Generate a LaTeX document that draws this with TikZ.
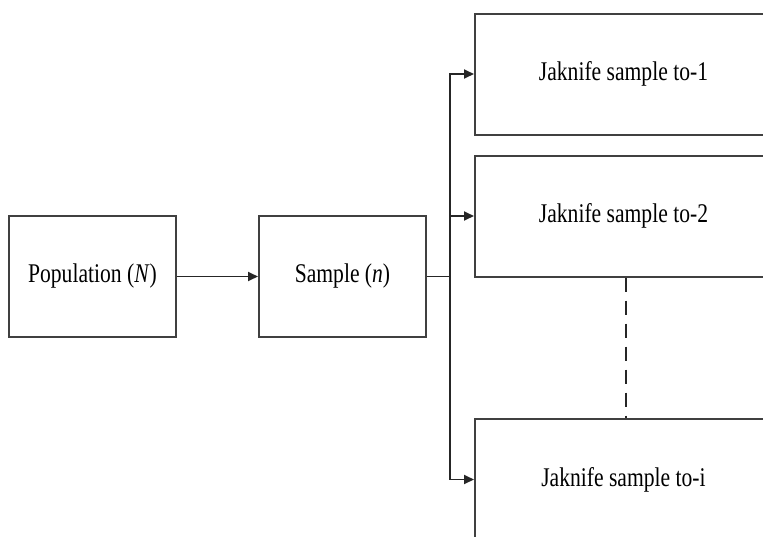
\documentclass[tikz,border=0pt]{standalone}
\usepackage{fontspec}
\setmainfont[FakeStretch=0.8]{Liberation Serif}
\usetikzlibrary{arrows.meta}
\tikzset{
  box/.style={draw=black!75, line width=2pt, fill=white, minimum height=121pt, inner sep=0pt, font=\fontsize{27}{30}\selectfont},
  smallbox/.style={box, minimum width=167pt},
  bigbox/.style={box, minimum width=297pt},
  conn/.style={draw=black!85, line width=1.8pt},
  arr/.style={conn, -{Triangle[length=10pt,width=9pt]}},
  dash line/.style={draw=black!85, line width=2pt, dash pattern=on 14pt off 9pt}
}
\begin{document}
\begin{tikzpicture}[x=1pt,y=-1pt]
\useasboundingbox (0,0) rectangle (763,536);
\clip (0,0) rectangle (763,536);
\node[smallbox] (pop) at (92.5,276.5) {Population (\textit{N})};
\node[smallbox] (smp) at (342.5,276.5) {Sample (\textit{n})};
\node[bigbox] (j1) at (623.5,74) {Jaknife sample to-1};
\node[bigbox] (j2) at (623.5,216) {Jaknife sample to-2};
\node[bigbox] (ji) at (623.5,479.5) {Jaknife sample to-i};
\coordinate (jn) at (450,276.5);
\draw[arr] (pop) -- (smp);
\draw[conn] (smp.east) -- (jn);
\draw[arr] (jn) |- (j1.west);
\draw[arr] (jn) |- (j2.west);
\draw[arr] (jn) |- (ji.west);
\draw[dash line] ([xshift=2.5pt]j2.south) -- ([xshift=2.5pt]ji.north);
\end{tikzpicture}
\end{document}
